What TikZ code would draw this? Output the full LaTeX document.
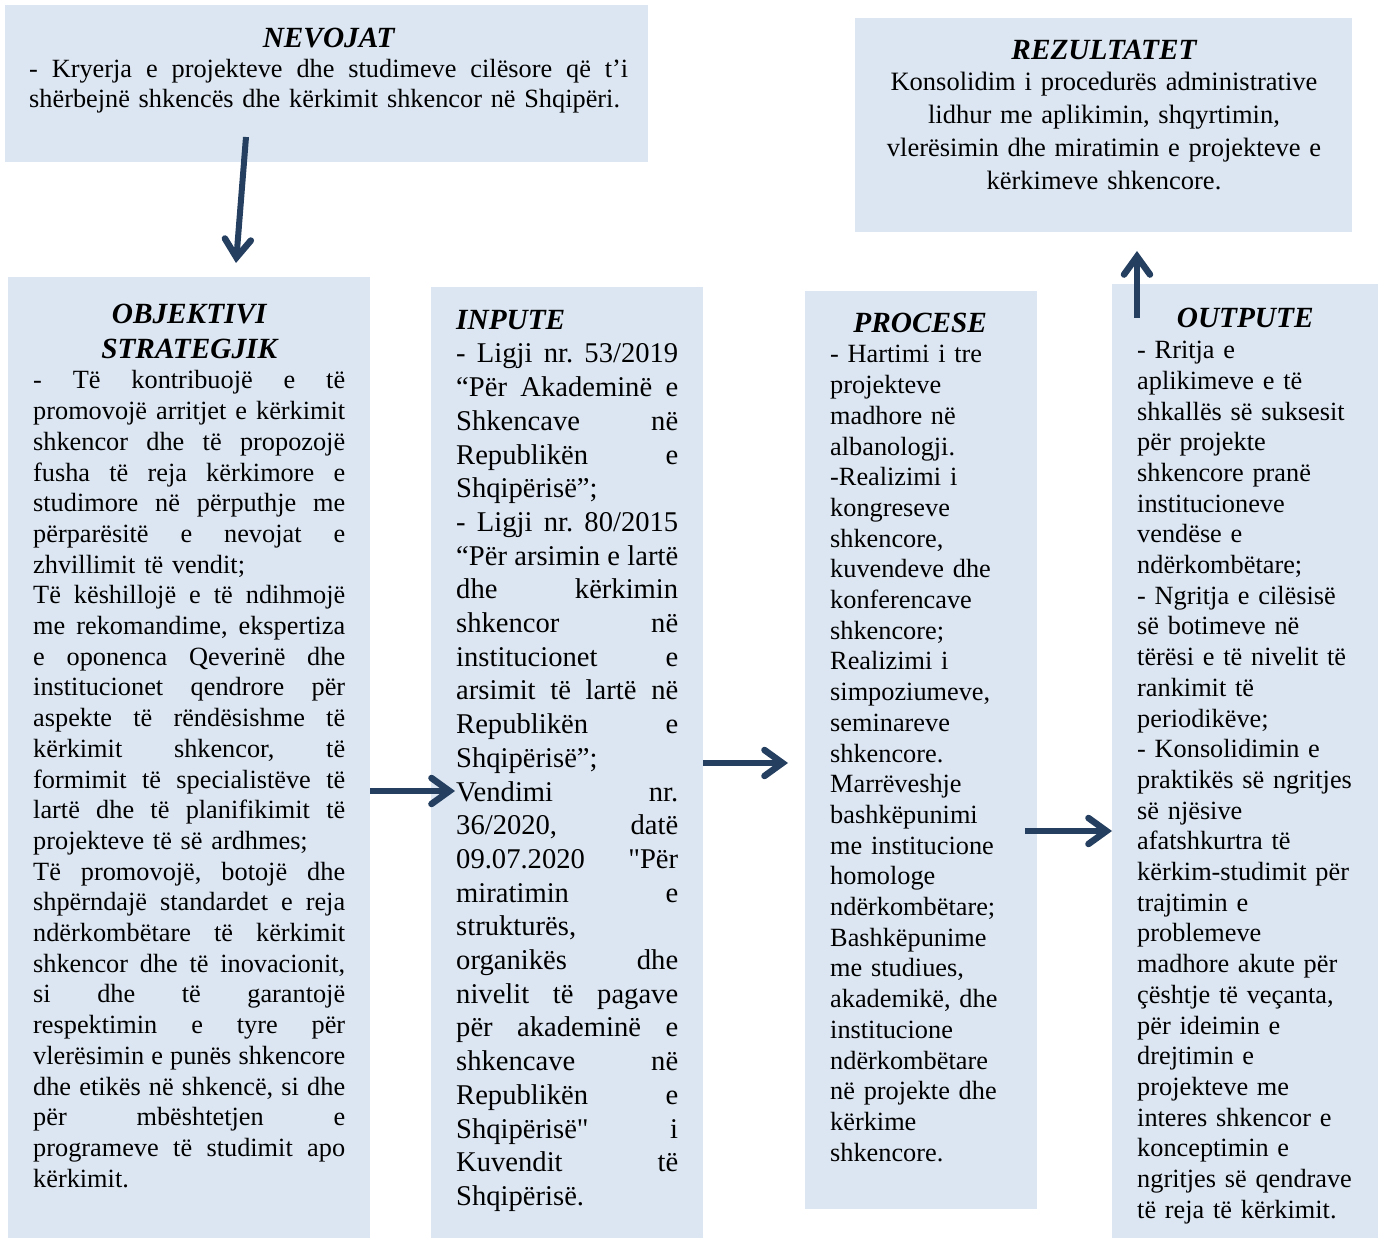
\documentclass[tikz,border=0pt]{standalone}
\usepackage{fontspec}
\setmainfont{Liberation Serif}
\usetikzlibrary{arrows.meta}
\definecolor{boxc}{HTML}{DCE6F2}
\definecolor{arrowc}{HTML}{243F60}
\newcommand\jline[1]{\makebox[\linewidth][s]{\frenchspacing\spaceskip=0.25em plus 1fil minus 0.1em\relax #1}}
\newcommand\ctline[1]{\makebox[\linewidth][c]{#1}}
\newcommand\sq{\XeTeXglyph\XeTeXcharglyph"22\relax}
\newcommand\ttl[1]{{\fontsize{29.3pt}{33pt}\selectfont\bfseries\itshape #1}}
\tikzset{
  panel/.style={fill=boxc, draw=none, inner sep=0pt, anchor=north west},
  txt/.style={inner sep=0pt, anchor=base west, align=left, font=\fontsize{26.3pt}{30.7pt}\selectfont},
  arr/.style={draw=arrowc, line width=6pt, -{Straight Barb[length=18pt,width=26pt,line width=6.5pt,line cap=round]}}
}
\begin{document}
\begin{tikzpicture}[x=1pt,y=-1pt]
\useasboundingbox (0,0) rectangle (1384,1238);
% panels
\node[panel, minimum width=643pt, minimum height=157pt] (nev) at (5,5) {};
\node[panel, minimum width=497pt, minimum height=214pt] (rez) at (855,18) {};
\node[panel, minimum width=362pt, minimum height=961pt] (obj) at (8,277) {};
\node[panel, minimum width=272pt, minimum height=951pt] (inp) at (431,287) {};
\node[panel, minimum width=232pt, minimum height=918pt] (proc) at (805,291) {};
\node[panel, minimum width=266pt, minimum height=954pt] (outp) at (1112,284) {};
% texts
\node[txt, text width=599pt, font=\fontsize{26.3pt}{30pt}\selectfont] (nevT) at (29,48) {%
\ctline{\ttl{NEVOJAT}}\\
\jline{- Kryerja e projekteve dhe studimeve cilësore që t’i}\\
shërbejnë shkencës dhe kërkimit shkencor në Shqipëri.};
\node[txt, anchor=base, text width=480pt, align=center, font=\fontsize{26.5pt}{33pt}\selectfont] (rezT) at (1104,60) {%
\ttl{REZULTATET}\\[-2pt]
Konsolidim i procedurës administrative\\
lidhur me aplikimin, shqyrtimin,\\
vlerësimin dhe miratimin e projekteve e\\
kërkimeve shkencore.};
\node[txt, text width=312pt] (objT) at (33,324) {%
\ctline{\ttl{OBJEKTIVI}}\\[4.3pt]
\ctline{\ttl{STRATEGJIK}}\\[-0.7pt]
\jline{- Të kontribuojë e të}\\
\jline{promovojë arritjet e kërkimit}\\
\jline{shkencor dhe të propozojë}\\
\jline{fusha të reja kërkimore e}\\
\jline{studimore në përputhje me}\\
\jline{përparësitë e nevojat e}\\
zhvillimit të vendit;\\
\jline{Të këshillojë e të ndihmojë}\\
\jline{me rekomandime, ekspertiza}\\
\jline{e oponenca Qeverinë dhe}\\
\jline{institucionet qendrore për}\\
\jline{aspekte të rëndësishme të}\\
\jline{kërkimit shkencor, të}\\
\jline{formimit të specialistëve të}\\
\jline{lartë dhe të planifikimit të}\\
projekteve të së ardhmes;\\
\jline{Të promovojë, botojë dhe}\\
\jline{shpërndajë standardet e reja}\\
\jline{ndërkombëtare të kërkimit}\\
\jline{shkencor dhe të inovacionit,}\\
\jline{si dhe të garantojë}\\
\jline{respektimin e tyre për}\\
\jline{vlerësimin e punës shkencore}\\
\jline{dhe etikës në shkencë, si dhe}\\
\jline{për mbështetjen e}\\
\jline{programeve të studimit apo}\\
kërkimit.};
\node[txt, text width=222pt, font=\fontsize{28.6pt}{33.7pt}\selectfont] (inpT) at (456,330) {%
\ttl{INPUTE}\\[-0.7pt]
\jline{- Ligji nr. 53/2019}\\
\jline{“Për Akademinë e}\\
\jline{Shkencave në}\\
\jline{Republikën e}\\
Shqipërisë”;\\
\jline{- Ligji nr. 80/2015}\\
\jline{“Për arsimin e lartë}\\
\jline{dhe kërkimin}\\
\jline{shkencor në}\\
\jline{institucionet e}\\
\jline{arsimit të lartë në}\\
\jline{Republikën e}\\
Shqipërisë”;\\
\jline{Vendimi nr.}\\
\jline{36/2020, datë}\\
\jline{09.07.2020 \sq Për}\\
\jline{miratimin e}\\
strukturës,\\
\jline{organikës dhe}\\
\jline{nivelit të pagave}\\
\jline{për akademinë e}\\
\jline{shkencave në}\\
\jline{Republikën e}\\
\jline{Shqipërisë\sq{} i}\\
\jline{Kuvendit të}\\
Shqipërisë.};
\node[txt, text width=200pt] (procT) at (830,333) {%
\makebox[180pt][c]{\ttl{PROCESE}}\\[-0.7pt]
- Hartimi i tre\\
projekteve\\
madhore në\\
albanologji.\\
-Realizimi i\\
kongreseve\\
shkencore,\\
kuvendeve dhe\\
konferencave\\
shkencore;\\
Realizimi i\\
simpoziumeve,\\
seminareve\\
shkencore.\\
Marrëveshje\\
bashkëpunimi\\
me institucione\\
homologe\\
ndërkombëtare;\\
Bashkëpunime\\
me studiues,\\
akademikë, dhe\\
institucione\\
ndërkombëtare\\
në projekte dhe\\
kërkime\\
shkencore.};
\node[txt, text width=236pt] (outpT) at (1137,328) {%
\makebox[216pt][c]{\ttl{OUTPUTE}}\\
- Rritja e\\
aplikimeve e të\\
shkallës së suksesit\\
për projekte\\
shkencore pranë\\
institucioneve\\
vendëse e\\
ndërkombëtare;\\
- Ngritja e cilësisë\\
së botimeve në\\
tërësi e të nivelit të\\
rankimit të\\
periodikëve;\\
- Konsolidimin e\\
praktikës së ngritjes\\
së njësive\\
afatshkurtra të\\
kërkim-studimit për\\
trajtimin e\\
problemeve\\
madhore akute për\\
çështje të veçanta,\\
për ideimin e\\
drejtimin e\\
projekteve me\\
interes shkencor e\\
konceptimin e\\
ngritjes së qendrave\\
të reja të kërkimit.};
% connectors
\coordinate (a1s) at (246,137);
\coordinate (a1e) at (236,263);
\coordinate (a2e) at (455,791);
\coordinate (a3e) at (788,763);
\coordinate (a4s) at (1025,831);
\coordinate (a5s) at (1137,318);
\coordinate (a5e) at (1137,251);
\draw[arr] (a1s) -- (a1e);
\draw[arr] (obj.north east |- a2e) -- (a2e);
\draw[arr] (inp.north east |- a3e) -- (a3e);
\draw[arr] (a4s) -- (outp.north west |- a4s);
\draw[arr] (a5s) -- (a5e);
\end{tikzpicture}
\end{document}
